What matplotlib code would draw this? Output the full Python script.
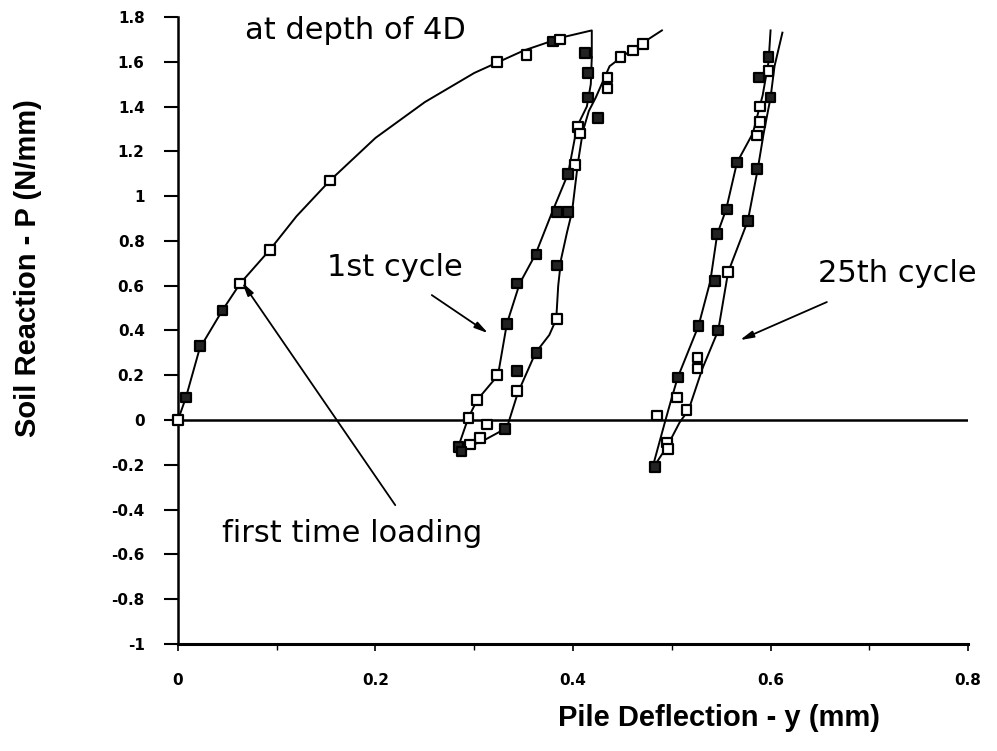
import matplotlib
matplotlib.use("Agg")
import matplotlib.pyplot as plt
from matplotlib.ticker import FuncFormatter, MultipleLocator

plt.rcParams['font.family'] = ['Liberation Sans', 'DejaVu Sans']

# first time loading curve and its test points
first_x = [0, 0.008, 0.022, 0.045, 0.063, 0.093, 0.12, 0.154, 0.2, 0.25, 0.3, 0.35, 0.39, 0.419, 0.419]
first_y = [0, 0.10, 0.32, 0.49, 0.61, 0.76, 0.91, 1.07, 1.26, 1.42, 1.55, 1.65, 1.71, 1.74, 1.62]
first_pts_x = [0, 0.008, 0.022, 0.045, 0.063, 0.093, 0.154, 0.323, 0.353, 0.38, 0.387]
first_pts_y = [0, 0.10, 0.33, 0.49, 0.61, 0.76, 1.07, 1.60, 1.63, 1.69, 1.70]
first_pts_fill = [0, 1, 1, 1, 0, 0, 0, 0, 0, 1, 0]

# 1st cycle: unloading and reloading branches
c1_unload_x = [0.419, 0.418, 0.414, 0.404, 0.395, 0.379, 0.362, 0.346, 0.333, 0.324, 0.303, 0.294, 0.283]
c1_unload_y = [1.62, 1.50, 1.40, 1.31, 1.10, 0.93, 0.74, 0.61, 0.43, 0.20, 0.09, 0.01, -0.13]
c1_reload_x = [0.283, 0.310, 0.333, 0.344, 0.362, 0.376, 0.383, 0.385, 0.388, 0.394, 0.399, 0.405,
               0.410, 0.416, 0.423, 0.437, 0.452, 0.469, 0.490]
c1_reload_y = [-0.14, -0.09, -0.035, 0.12, 0.30, 0.38, 0.45, 0.60, 0.72, 0.84, 0.93, 1.15,
               1.29, 1.38, 1.44, 1.58, 1.63, 1.68, 1.74]
c1_pts_x = [0.412, 0.415, 0.415, 0.435, 0.435, 0.425, 0.405, 0.407, 0.402, 0.395, 0.384, 0.395,
            0.363, 0.384, 0.343, 0.384, 0.333, 0.363, 0.343, 0.323, 0.343, 0.303, 0.294, 0.331,
            0.313, 0.306, 0.296, 0.284, 0.287, 0.448, 0.461, 0.471]
c1_pts_y = [1.64, 1.55, 1.44, 1.53, 1.48, 1.35, 1.31, 1.28, 1.14, 1.10, 0.93, 0.93,
            0.74, 0.69, 0.61, 0.45, 0.43, 0.30, 0.22, 0.20, 0.13, 0.09, 0.01, -0.04,
            -0.02, -0.08, -0.11, -0.12, -0.14, 1.62, 1.65, 1.68]
c1_pts_fill = [1, 1, 1, 0, 0, 1, 0, 0, 0, 1, 1, 1,
               1, 1, 1, 0, 1, 1, 1, 0, 0, 0, 0, 1,
               0, 0, 0, 1, 1, 0, 0, 0]

# 25th cycle
c25_unload_x = [0.600, 0.598, 0.592, 0.582, 0.566, 0.555, 0.546, 0.539, 0.527, 0.506, 0.500, 0.493, 0.480]
c25_unload_y = [1.74, 1.60, 1.45, 1.28, 1.15, 0.94, 0.83, 0.62, 0.42, 0.19, 0.10, -0.01, -0.22]
c25_reload_x = [0.480, 0.495, 0.508, 0.517, 0.531, 0.547, 0.557, 0.577, 0.587, 0.593, 0.600, 0.604, 0.612]
c25_reload_y = [-0.22, -0.12, -0.01, 0.045, 0.23, 0.40, 0.66, 0.89, 1.12, 1.28, 1.44, 1.58, 1.73]
c25_pts_x = [0.598, 0.598, 0.588, 0.600, 0.589, 0.589, 0.586, 0.566, 0.586, 0.556, 0.577, 0.546,
             0.544, 0.557, 0.527, 0.547, 0.526, 0.526, 0.506, 0.505, 0.485, 0.515, 0.495, 0.496, 0.483]
c25_pts_y = [1.62, 1.56, 1.53, 1.44, 1.40, 1.33, 1.27, 1.15, 1.12, 0.94, 0.89, 0.83,
             0.62, 0.66, 0.42, 0.40, 0.28, 0.23, 0.19, 0.10, 0.02, 0.045, -0.10, -0.13, -0.21]
c25_pts_fill = [1, 0, 1, 1, 0, 0, 0, 1, 1, 1, 1, 1,
                1, 0, 1, 1, 0, 0, 1, 0, 0, 0, 0, 0, 1]

y_ticks = [-1, -0.8, -0.6, -0.4, -0.2, 0, 0.2, 0.4, 0.6, 0.8, 1, 1.2, 1.4, 1.6, 1.8]
x_ticks = [0, 0.2, 0.4, 0.6, 0.8]

fig = plt.figure(figsize=(9.97, 7.51), dpi=100)
ax = fig.add_axes([0.1785, 0.1425, 0.7925, 0.8349])

for lx, ly in [(first_x, first_y), (c1_unload_x, c1_unload_y), (c1_reload_x, c1_reload_y),
               (c25_unload_x, c25_unload_y), (c25_reload_x, c25_reload_y)]:
    ax.plot(lx, ly, color='black', lw=1.4, zorder=2)

for px, py, pf in [(first_pts_x, first_pts_y, first_pts_fill),
                   (c1_pts_x, c1_pts_y, c1_pts_fill),
                   (c25_pts_x, c25_pts_y, c25_pts_fill)]:
    faces = ['#222222' if f else 'white' for f in pf]
    ax.scatter(px, py, marker='s', s=48, facecolors=faces, edgecolors='black',
               linewidths=1.6, zorder=3, clip_on=False)

ax.axhline(0, color='black', lw=1.8, zorder=1)

ax.set_xlim(0, 0.8)
ax.set_ylim(-1, 1.8)
ax.set_yticks(y_ticks)
ax.set_xticks(x_ticks)
ax.xaxis.set_minor_locator(MultipleLocator(0.1))
fmt = FuncFormatter(lambda v, p: '%g' % round(v, 2))
ax.xaxis.set_major_formatter(fmt)
ax.yaxis.set_major_formatter(fmt)

for s in ['top', 'right']:
    ax.spines[s].set_visible(False)
ax.spines['left'].set_linewidth(1.8)
ax.spines['bottom'].set_linewidth(2.2)
ax.tick_params(axis='y', direction='out', length=10, width=1.5, pad=14, labelsize=11)
ax.tick_params(axis='x', which='major', direction='out', length=5, width=1.2, pad=16, labelsize=11)
ax.tick_params(axis='x', which='minor', direction='out', length=4, width=1.0)
for lab in ax.get_xticklabels() + ax.get_yticklabels():
    lab.set_fontweight('bold')
    lab.set_family('DejaVu Sans')

# annotations
note = dict(fontsize=22, family='DejaVu Sans', ha='left', va='center')
ax.text(0.068, 1.74, 'at depth of 4D', **note)
ax.text(0.151, 0.68, '1st cycle', **note)
ax.text(0.648, 0.656, '25th cycle', clip_on=False, **note)
ax.text(0.0446, -0.505, 'first time loading', **note)

arrow = dict(arrowstyle='-|>,head_length=0.8,head_width=0.2', color='black', lw=1.3, shrinkA=0, shrinkB=0)
ax.annotate('', xy=(0.065, 0.615), xytext=(0.22, -0.38), arrowprops=arrow)
ax.annotate('', xy=(0.314, 0.388), xytext=(0.257, 0.558), arrowprops=arrow)
ax.annotate('', xy=(0.569, 0.357), xytext=(0.657, 0.527), arrowprops=arrow)

fig.text(28 / 997, 1 - 268 / 751, 'Soil Reaction - P (N/mm)', rotation=90,
         ha='center', va='center', fontsize=21, fontweight='bold')
fig.text(719 / 997, 1 - 718 / 751, 'Pile Deflection - y (mm)',
         ha='center', va='center', fontsize=21, fontweight='bold')

fig.savefig('out.png', dpi=100)
